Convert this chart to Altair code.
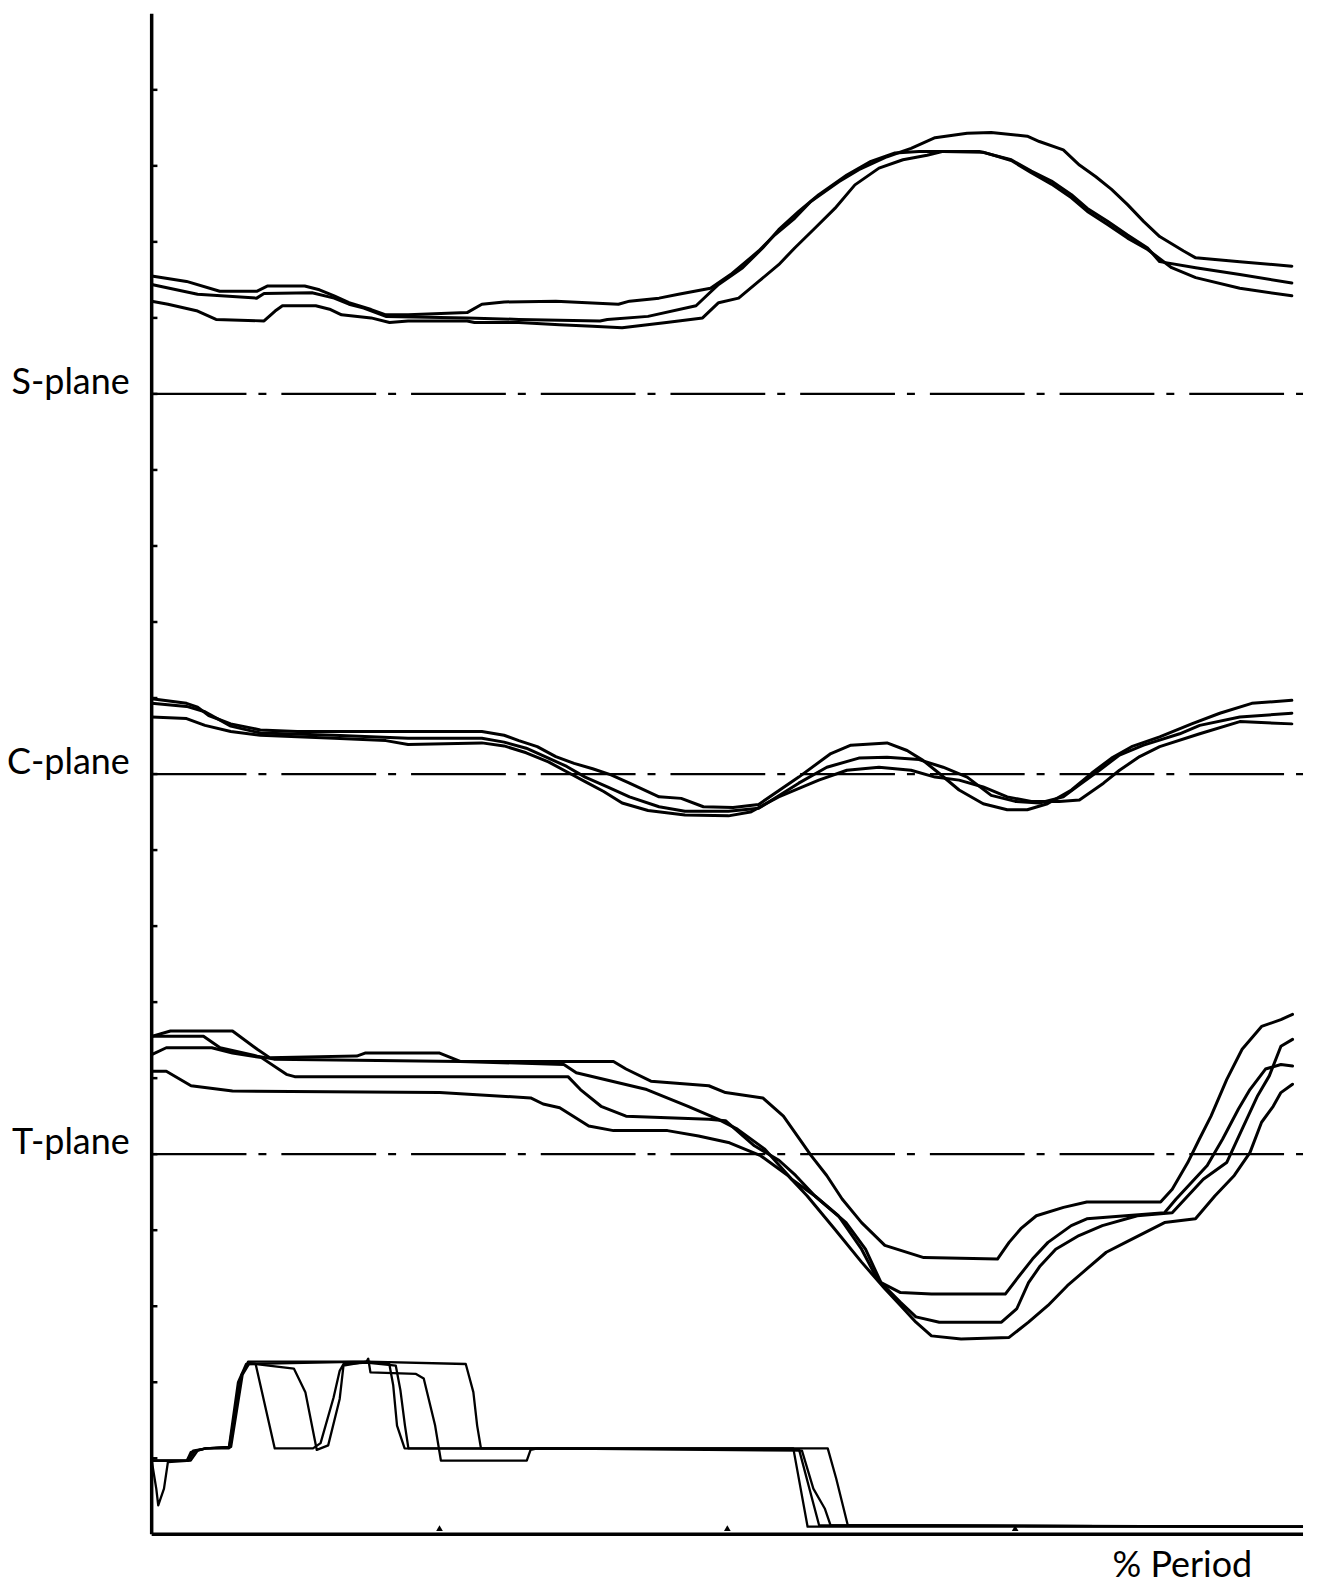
import altair as alt
import pandas as pd

# x = % period (0-100), y = position in tick units (0-20). Plane reference lines at 15 (S), 10 (C), 5 (T).
S_A = [(0,16.55),(3.03,16.48),(5.91,16.35),(9.12,16.35),(10.08,16.42),(13.29,16.42),(14.57,16.37),(15.85,16.29),(17.14,16.20),(19.06,16.11),(20.34,16.04),(22.27,16.04),(27.40,16.07),(28.68,16.18),(30.61,16.21),(35.10,16.22),(40.54,16.18),(41.50,16.22),(44.07,16.26),(45.76,16.31),(48.54,16.39),(50.28,16.57),(52.72,16.88),(54.11,17.09),(55.85,17.31),(57.25,17.53),(59.68,17.79),(61.42,17.95),(63.87,18.12),(65.96,18.23),(68.04,18.37),(70.83,18.43),(72.92,18.44),(76.05,18.39),(77.10,18.32),(79.18,18.21),(80.58,18.01),(81.98,17.86),(83.37,17.69),(84.76,17.49),(86.15,17.27),(87.55,17.07),(89.63,16.88),(90.68,16.79),(94.51,16.74),(99.03,16.68)]
S_B = [(0,16.44),(3.99,16.31),(9.12,16.26),(9.76,16.32),(13.93,16.33),(15.85,16.26),(17.14,16.18),(18.42,16.13),(20.34,16.02),(27.40,16.00),(31.89,15.98),(38.94,15.96),(39.58,15.98),(43.11,16.02),(47.28,16.16),(49.24,16.44),(51.33,16.66),(53.07,16.92),(54.46,17.16),(56.20,17.40),(57.94,17.62),(60.38,17.88),(62.47,18.06),(64.56,18.17),(66.65,18.19),(71.87,18.19),(74.66,18.08),(76.40,17.93),(78.15,17.80),(79.89,17.62),(81.27,17.44),(83.02,17.27),(84.76,17.09),(86.50,16.92),(87.55,16.74),(90.68,16.66),(94.51,16.57),(99.03,16.46)]
S_C = [(0,16.22),(1.42,16.18),(3.99,16.09),(5.59,15.98),(9.76,15.96),(10.72,16.09),(11.36,16.16),(14.25,16.16),(15.54,16.11),(16.49,16.04),(19.06,16.00),(20.66,15.94),(22.27,15.96),(27.40,15.96),(28.04,15.94),(31.89,15.94),(35.41,15.91),(38.30,15.89),(40.86,15.87),(44.71,15.94),(47.85,16.00),(49.24,16.20),(50.98,16.26),(52.72,16.48),(54.46,16.70),(55.85,16.92),(57.60,17.18),(59.34,17.44),(61.08,17.75),(63.17,17.97),(65.25,18.08),(67.35,18.14),(68.74,18.19),(72.22,18.18),(74.66,18.07),(76.40,17.91),(78.15,17.76),(79.89,17.58),(81.27,17.40),(83.02,17.23),(84.76,17.05),(86.50,16.90),(88.59,16.66),(90.68,16.53),(94.51,16.39),(99.03,16.29)]

C_P = [(0,10.99),(3.03,10.93),(3.99,10.88),(4.95,10.77),(6.87,10.66),(9.44,10.58),(12.65,10.56),(19.06,10.56),(28.68,10.56),(30.61,10.51),(31.89,10.44),(33.49,10.36),(35.10,10.23),(36.69,10.14),(38.30,10.07),(39.90,9.99),(41.50,9.88),(44.07,9.70),(45.99,9.68),(47.92,9.57),(50.5,9.56),(52.72,9.60),(56.20,9.96),(58.99,10.27),(60.73,10.38),(63.87,10.41),(65.61,10.31),(66.99,10.18),(68.39,10.01),(70.13,9.79),(72.22,9.61),(74.31,9.53),(76.05,9.53),(77.80,9.61),(79.89,9.79),(81.63,10.01),(83.37,10.21),(85.11,10.36),(87.55,10.49),(90.33,10.66),(92.77,10.80),(95.55,10.93),(99.03,10.97)]
C_Q = [(0,10.93),(3.03,10.89),(4.63,10.82),(6.87,10.63),(9.44,10.54),(15.85,10.51),(22.27,10.47),(28.68,10.47),(30.61,10.42),(32.53,10.34),(34.46,10.21),(36.05,10.10),(37.65,9.96),(39.58,9.83),(41.50,9.70),(44.07,9.57),(46.32,9.51),(50.10,9.51),(52.72,9.55),(56.20,9.88),(58.64,10.09),(61.42,10.21),(63.87,10.22),(66.65,10.19),(68.74,10.09),(70.83,9.96),(72.92,9.72),(75.01,9.64),(77.10,9.62),(79.18,9.70),(80.58,9.86),(82.32,10.05),(84.06,10.25),(86.15,10.38),(89.29,10.53),(91.03,10.64),(94.51,10.75),(99.03,10.80)]
C_R = [(0,10.75),(3.03,10.73),(4.63,10.64),(6.87,10.56),(9.44,10.51),(12.65,10.49),(15.85,10.47),(20.34,10.44),(22.27,10.39),(28.68,10.41),(30.61,10.37),(32.53,10.28),(34.46,10.16),(36.05,10.03),(37.65,9.90),(39.26,9.77),(40.86,9.62),(43.11,9.52),(46.32,9.46),(50.10,9.45),(52.0,9.50),(54.46,9.70),(57.94,9.92),(60.38,10.05),(63.17,10.09),(65.96,10.05),(68.04,9.96),(70.13,9.92),(72.22,9.83),(74.31,9.70),(76.40,9.64),(78.84,9.64),(80.58,9.66),(82.67,9.88),(84.06,10.05),(85.81,10.23),(87.55,10.36),(91.03,10.53),(94.51,10.69),(99.03,10.66)]

T_A = [(0,6.55),(1.63,6.62),(7.02,6.62),(9.17,6.38),(10.25,6.27),(17.81,6.29),(18.53,6.33),(25.01,6.33),(26.80,6.22),(40.11,6.22),(41.20,6.12),(43.36,5.96),(48.39,5.90),(49.84,5.81),(53.08,5.74),(54.87,5.50),(56.26,5.20),(57.28,4.98),(58.63,4.72),(59.97,4.41),(61.66,4.10),(63.68,3.80),(67.06,3.64),(73.46,3.62),(74.47,3.84),(75.49,4.02),(76.84,4.19),(79.20,4.30),(81.22,4.37),(87.63,4.37),(88.64,4.54),(89.99,4.89),(91.00,5.20),(92.01,5.50),(93.37,5.98),(94.71,6.38),(96.40,6.68),(98.08,6.77),(99.09,6.84)]
T_B = [(0,6.55),(4.50,6.55),(5.94,6.40),(9.17,6.29),(10.62,6.25),(26.80,6.22),(35.80,6.18),(36.88,6.07),(43.00,5.85),(46.59,5.63),(49.18,5.46),(50.87,5.33),(53.22,5.07),(55.59,4.67),(57.61,4.45),(59.64,4.19),(61.66,3.75),(63.01,3.36),(65.04,3.05),(66.38,2.86),(68.41,2.79),(73.81,2.79),(75.15,2.97),(76.16,3.31),(77.17,3.53),(78.52,3.75),(80.54,3.93),(82.57,4.06),(85.61,4.19),(88.64,4.23),(89.99,4.45),(91.34,4.67),(93.37,4.89),(94.71,5.33),(96.06,5.77),(97.07,6.03),(98.08,6.42),(99.09,6.51)]
T_C = [(0,6.31),(1.27,6.40),(5.22,6.40),(7.02,6.33),(9.53,6.27),(11.70,6.05),(12.42,6.02),(36.16,6.02),(37.24,5.85),(39.03,5.63),(41.20,5.50),(48.39,5.46),(49.84,5.44),(52.35,5.11),(54.48,4.92),(55.93,4.72),(57.61,4.45),(60.31,4.10),(62.00,3.75),(63.35,3.31),(65.04,3.18),(67.73,3.16),(74.14,3.16),(75.15,3.36),(76.50,3.62),(77.85,3.84),(79.87,4.06),(81.22,4.15),(84.59,4.19),(87.97,4.23),(88.98,4.41),(90.33,4.63),(91.68,4.85),(93.02,5.20),(94.38,5.59),(95.39,5.85),(96.74,6.12),(98.08,6.18),(99.09,6.16)]
T_D = [(0,6.09),(1.27,6.09),(3.42,5.90),(7.02,5.83),(25.01,5.81),(32.92,5.74),(34.00,5.66),(35.44,5.61),(37.96,5.37),(40.11,5.31),(44.80,5.31),(47.50,5.24),(50.19,5.15),(52.89,4.98),(55.26,4.72),(56.94,4.45),(59.30,4.02),(61.66,3.58),(63.68,3.23),(65.04,3.01),(66.38,2.79),(67.73,2.61),(70.30,2.57),(74.47,2.59),(76.16,2.79),(77.85,3.01),(79.53,3.27),(81.22,3.49),(82.91,3.71),(84.59,3.84),(87.97,4.10),(90.66,4.15),(92.34,4.45),(94.03,4.72),(95.39,5.02),(96.40,5.42),(97.41,5.63),(98.08,5.81),(99.09,5.92)]

G_1 = [(0,0.97),(3.06,0.97),(3.6,1.10),(4.72,1.13),(6.71,1.13),(7.71,2.05),(8.37,2.27),(18.66,2.27),(27.28,2.24),(27.94,1.87),(28.27,1.43),(28.60,1.13),(55.73,1.13),(56.97,0.10),(100,0.10)]
G_2 = [(0,0.97),(3.06,0.97),(3.39,1.08),(4.72,1.13),(6.71,1.15),(7.5,2.0),(8.2,2.24),(18.66,2.27),(18.81,2.31),(19.0,2.13),(22.96,2.11),(23.63,2.05),(24.62,1.43),(25.12,0.97),(32.58,0.97),(32.91,1.11),(33.5,1.13),(56.48,1.10),(57.47,0.60),(58.46,0.34),(58.96,0.12),(100,0.10)]
G_3 = [(0,0.97),(0.40,0.60),(0.57,0.38),(1.07,0.60),(1.41,0.95),(3.39,0.97),(4.0,1.10),(4.72,1.13),(6.9,1.15),(7.9,2.1),(8.5,2.25),(12.35,2.18),(13.35,1.87),(14.34,1.11),(15.33,1.17),(16.33,1.78),(16.66,2.22),(18.66,2.27),(20.64,2.24),(20.98,1.96),(21.31,1.43),(21.97,1.13),(56.22,1.12),(57.97,0.12),(100,0.10)]
G_4 = [(0,0.97),(3.2,0.97),(3.8,1.10),(4.72,1.13),(6.8,1.14),(7.8,2.1),(8.4,2.24),(9.03,2.24),(10.69,1.13),(14.01,1.13),(14.67,1.2),(15.8,1.8),(16.33,2.15),(16.66,2.24),(18.66,2.26),(21.2,2.22),(21.6,1.9),(22.0,1.43),(22.30,1.13),(58.72,1.13),(59.46,0.73),(60.46,0.12),(100,0.10)]

PLANE_LABELS = ["S-plane", "C-plane", "T-plane"]
PLANE_LEVELS = [15, 10, 5]
Y_TICKS = list(range(1, 20))
X_TICKS = [25, 50, 75]
X_RANGE = [0, 100]
Y_RANGE = [0, 20]
X_TITLE = "% Period"

plane_series = {"S_A": S_A, "S_B": S_B, "S_C": S_C, "C_P": C_P, "C_Q": C_Q, "C_R": C_R,
                "T_A": T_A, "T_B": T_B, "T_C": T_C, "T_D": T_D}
step_series = {"G_1": G_1, "G_2": G_2, "G_3": G_3, "G_4": G_4}


def to_df(d):
    rows = []
    for name, pts in d.items():
        for i, (p, v) in enumerate(pts):
            rows.append({"trace": name, "pct": p, "val": v, "idx": i})
    return pd.DataFrame(rows)


plane_df = to_df(plane_series)
step_df = to_df(step_series)

xs = alt.Scale(domain=X_RANGE, nice=False, zero=False)
ys = alt.Scale(domain=Y_RANGE, nice=False, zero=False)

planes = alt.Chart(plane_df).mark_line(color="black", strokeWidth=3, strokeJoin="round", strokeCap="round").encode(
    x=alt.X("pct:Q", scale=xs, axis=None),
    y=alt.Y("val:Q", scale=ys, axis=None),
    detail="trace:N",
    order="idx:Q",
)

steps = alt.Chart(step_df).mark_line(color="black", strokeWidth=2.3, strokeJoin="round").encode(
    x=alt.X("pct:Q", scale=xs, axis=None),
    y=alt.Y("val:Q", scale=ys, axis=None),
    detail="trace:N",
    order="idx:Q",
)

base_df = pd.DataFrame({"level": PLANE_LEVELS, "label": PLANE_LABELS,
                        "x0": [X_RANGE[0]] * 3, "x1": [X_RANGE[1]] * 3})
baselines = alt.Chart(base_df).mark_rule(color="black", strokeWidth=2.2, strokeDash=[95, 12, 8, 15]).encode(
    x=alt.X("x0:Q", scale=xs, axis=None),
    x2="x1:Q",
    y=alt.Y("level:Q", scale=ys, axis=None),
)

labels = alt.Chart(base_df).mark_text(align="right", baseline="middle", font="Lato", fontSize=36,
                                       color="black", dy=-11).encode(
    x=alt.value(-22),
    y=alt.Y("level:Q", scale=ys, axis=None),
    text="label:N",
)

# axis lines (drawn from the scale extents)
yaxis_df = pd.DataFrame({"x": [X_RANGE[0]], "y0": [Y_RANGE[0]], "y1": [Y_RANGE[1]]})
yaxis = alt.Chart(yaxis_df).mark_rule(color="black", strokeWidth=3.5).encode(
    x=alt.X("x:Q", scale=xs, axis=None),
    y=alt.Y("y0:Q", scale=ys, axis=None),
    y2="y1:Q",
)
xaxis_df = pd.DataFrame({"y": [Y_RANGE[0]], "x0": [X_RANGE[0]], "x1": [X_RANGE[1]]})
xaxis = alt.Chart(xaxis_df).mark_rule(color="black", strokeWidth=3.5).encode(
    x=alt.X("x0:Q", scale=xs, axis=None),
    x2="x1:Q",
    y=alt.Y("y:Q", scale=ys, axis=None),
)

tick_df = pd.DataFrame({"t": Y_TICKS, "x0": [0] * len(Y_TICKS), "x1": [0.5] * len(Y_TICKS)})
yticks = alt.Chart(tick_df).mark_rule(color="black", strokeWidth=2.5).encode(
    x=alt.X("x0:Q", scale=xs, axis=None),
    x2="x1:Q",
    y=alt.Y("t:Q", scale=ys, axis=None),
)

xt_df = pd.DataFrame({"p": X_TICKS, "v": [0.08] * len(X_TICKS)})
xticks = alt.Chart(xt_df).mark_point(shape="triangle-up", filled=True, size=45, color="black", opacity=1).encode(
    x=alt.X("p:Q", scale=xs, axis=None),
    y=alt.Y("v:Q", scale=ys, axis=None),
)

title_df = pd.DataFrame({"t": [X_TITLE]})
xtitle = alt.Chart(title_df).mark_text(align="right", baseline="middle", font="Lato", fontSize=36,
                                        color="black").encode(
    x=alt.value(1103),
    y=alt.value(1556),
    text="t:N",
)

chart = alt.layer(planes, steps, baselines, labels, yaxis, xaxis, yticks, xticks, xtitle).properties(
    width=1154,
    height=1524,
    autosize=alt.AutoSizeParams(type="none"),
    padding={"left": 144, "top": 4, "right": 8, "bottom": 50},
    background="white",
).configure_view(stroke=None)

chart.save("out.html", embed_options={"renderer": "svg", "actions": False})
